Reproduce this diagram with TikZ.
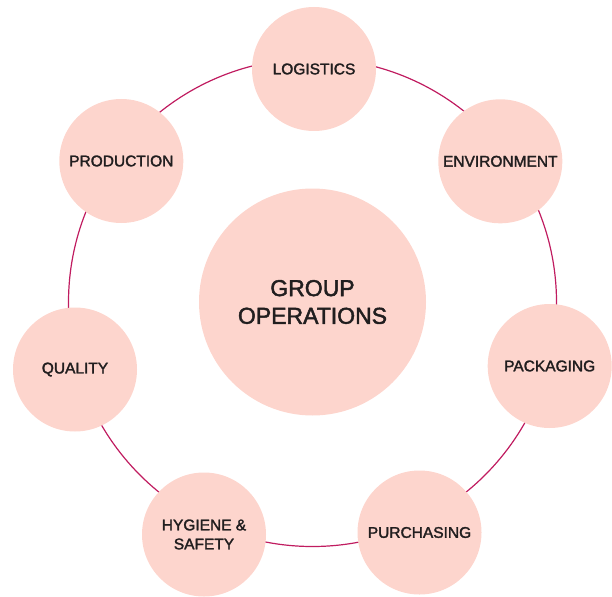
\documentclass[tikz,border=0pt]{standalone}
\usepackage{fontspec}
\setmainfont{Liberation Sans}[FakeBold=2]
\definecolor{ringline}{RGB}{192,28,96}
\definecolor{bubble}{RGB}{253,213,205}
\definecolor{ink}{RGB}{33,30,31}
\begin{document}
\begin{tikzpicture}[x=1pt,y=-1pt,
  hub/.style={circle,fill=bubble,inner sep=0pt,minimum size=227pt,align=center,
    text=ink,font=\fontsize{23}{27.7}\selectfont},
  area/.style={circle,fill=bubble,inner sep=0pt,minimum size=124pt,align=center,
    text=ink,font=\fontsize{15.5}{19}\selectfont},
  loop/.style={circle,draw=ringline,line width=1.2pt,inner sep=0pt,minimum size=488pt}]
\useasboundingbox (0,0) rectangle (612,596);
% ring linking the seven areas
\node[loop] (cycle) at (312.5,302.5) {};
% central hub
\node[hub] (hub) at (312.5,302) {GROUP\\OPERATIONS};
% surrounding areas
\node[area] (logistics)   at (314,69)      {LOGISTICS};
\node[area] (environment) at (500.3,161.3) {ENVIRONMENT};
\node[area] (packaging)   at (549.7,366)   {PACKAGING};
\node[area] (purchasing)  at (419.5,532.5) {PURCHASING};
\node[area] (hygiene)     at (204,534.5)   {HYGIENE \&\\SAFETY};
\node[area] (quality)     at (75,369.5)    {QUALITY};
\node[area] (production)  at (121.3,161)   {PRODUCTION};
\end{tikzpicture}
\end{document}
